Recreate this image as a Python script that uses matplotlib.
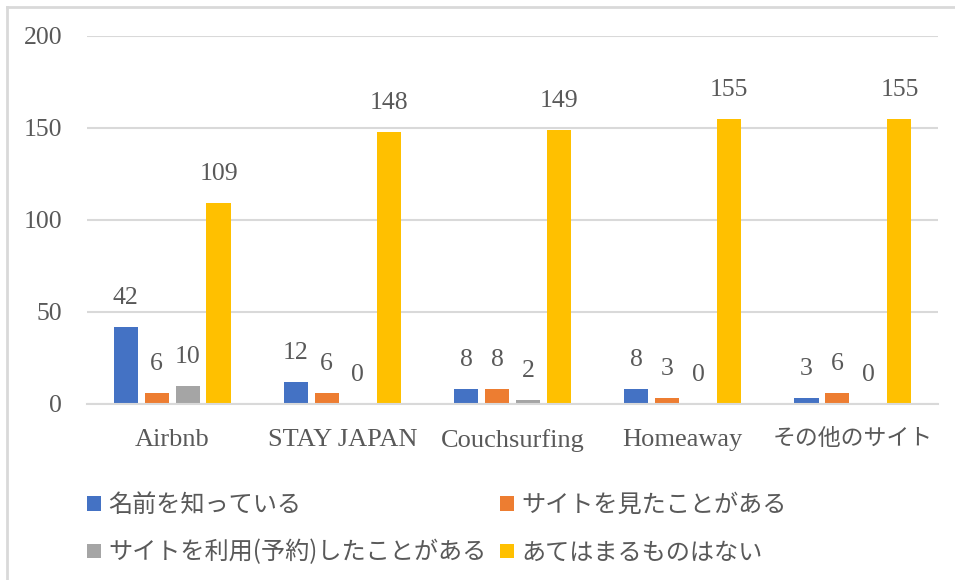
import matplotlib
matplotlib.use("Agg")
import matplotlib.pyplot as plt
from matplotlib.lines import Line2D
from matplotlib.patches import Patch
import numpy as np

plt.rcParams['font.family'] = ['Liberation Serif', 'Noto Sans CJK JP', 'DejaVu Sans']

categories = ["Airbnb", "STAY JAPAN", "Couchsurfing", "Homeaway", "その他のサイト"]
series_names = ["名前を知っている", "サイトを見たことがある",
                "サイトを利用(予約)したことがある", "あてはまるものはない"]
known = [42, 12, 8, 8, 3]
visited = [6, 6, 8, 3, 6]
used = [10, 0, 2, 0, 0]
none_apply = [109, 148, 149, 155, 155]
y_ticks = [0, 50, 100, 150, 200]

series = [known, visited, used, none_apply]
colors = ["#4472C4", "#ED7D31", "#A5A5A5", "#FFC000"]
text_color = "#595959"
grid_color = "#D9D9D9"

W, H = 955, 580
fig = plt.figure(figsize=(W / 100, H / 100), dpi=100)
ax = fig.add_axes([87 / W, 1 - 404 / H, (938 - 87) / W, (404 - 36) / H])

x = np.arange(len(categories))
step = 0.182
width = 0.142
offsets = (np.arange(len(series)) - 1.5) * step

for vals, off, col in zip(series, offsets, colors):
    bars = ax.bar(x + off, vals, width=width, color=col, zorder=3)
    ax.bar_label(bars, labels=[str(v) for v in vals], padding=13,
                 fontsize=18.5, color=text_color, zorder=4)

ax.set_xlim(-0.5, len(categories) - 0.5)
ax.set_ylim(0, 200)
ax.set_yticks(y_ticks)
ax.set_yticklabels([str(t) for t in y_ticks])
ax.set_xticks(x)
ax.set_xticklabels(categories)
ax.tick_params(axis='y', length=0, pad=18, labelsize=18.5, labelcolor=text_color)
ax.tick_params(axis='x', length=0, pad=18, labelcolor=text_color)
for lbl in ax.get_xticklabels():
    lbl.set_fontsize(16.5 if not lbl.get_text().isascii() else 19)
ax.yaxis.grid(True, color=grid_color, linewidth=1.5, zorder=0)
for s in ['top', 'right', 'left']:
    ax.spines[s].set_visible(False)
ax.spines['bottom'].set_color(grid_color)
ax.spines['bottom'].set_linewidth(1.5)
ax.spines['bottom'].set_zorder(5)

# legend: row-major reading order across two columns
order = [0, 2, 1, 3]
handles = [Patch(facecolor=colors[i], edgecolor='none') for i in order]
labels = [series_names[i] for i in order]
leg = fig.legend(handles, labels, ncol=2, loc='upper left',
                 bbox_to_anchor=(87 / W, 1 - 492 / H), frameon=False,
                 borderpad=0, borderaxespad=0,
                 prop={'family': ['Noto Sans CJK JP'], 'size': 17.4},
                 labelcolor=text_color, handlelength=0.58, handleheight=0.54,
                 handletextpad=0.29, columnspacing=0.58, labelspacing=0.89)

# chart border (top and left edges)
fig.add_artist(Line2D([7 / W, 1], [1 - 7 / H, 1 - 7 / H], color=grid_color,
                      linewidth=2, transform=fig.transFigure))
fig.add_artist(Line2D([7 / W, 7 / W], [0, 1 - 7 / H], color=grid_color,
                      linewidth=2, transform=fig.transFigure))

fig.savefig("out.png", dpi=100, facecolor="white")
